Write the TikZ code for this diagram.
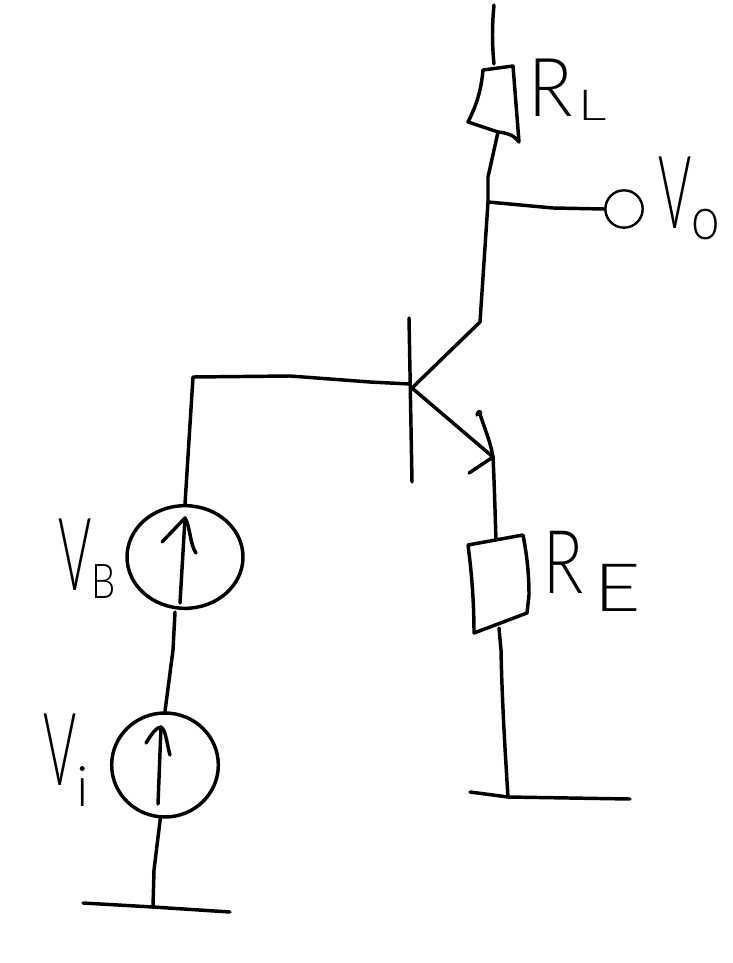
\documentclass[tikz,border=0pt]{standalone}
\usepackage{fontspec}
\usepackage{graphicx}
\usepackage{tikz}
\usetikzlibrary{shapes.geometric}
\newfontfamily\handfont{Lato}[UprightFont=*-Light]
\newcommand{\handtext}[3]{\scalebox{#2}[1]{\fontsize{#1}{#1}\selectfont\handfont #3}}
\tikzset{
  wire/.style={line width=2.6pt,line join=round,line cap=round},
  sourcering/.style={draw,ellipse,line width=2.6pt,inner sep=0pt},
  hand/.style={anchor=base west,inner sep=0pt},
}
\begin{document}
\begin{tikzpicture}[x=0.75pt,y=0.75pt,yscale=-1,xscale=1]
\useasboundingbox (0,0) rectangle (732,963);

%Shape: sources and output terminal
\node [sourcering,minimum width=87pt,minimum height=77pt] (srcB) at (185,557) {};
\node [sourcering,minimum width=80pt,minimum height=78pt] (srcI) at (165,765) {};
\node [draw,circle,line width=1.8pt,minimum size=28pt,inner sep=0pt] (out) at (624,209) {};

%Shape: junctions
\coordinate (top) at (494,5);
\coordinate (rlT) at (494,64);
\coordinate (rlB) at (498,132);
\coordinate (tap) at (488,202);
\coordinate (col) at (480,322);
\coordinate (base) at (412,388);
\coordinate (emit) at (493,457);
\coordinate (reT) at (496,540);
\coordinate (reB) at (499,628);
\coordinate (corner) at (193,377);
\coordinate (gndA) at (153,907);
\coordinate (gndB) at (508,797);

%Shape: resistors
\draw [wire] (483,70) -- (513,66) -- (519,142) .. controls (513,134) and (506,133) .. (rlB) -- (468,122) .. controls (476,106) and (481,92) .. (483,70) ;
\draw [wire] (468,545) -- (523,535) .. controls (527,555) and (529,575) .. (529,595) -- (527,613) -- (474,633) .. controls (474,605) and (472,575) .. (468,545) ;

%Shape: wires
\draw [wire] (top) .. controls (492,25) and (492,45) .. (rlT) ;
\draw [wire] (rlB) -- (488,177) -- (tap) -- (col) -- (base) ;
\draw [wire] (tap) -- (553,208) -- (out.west) ;
\draw [wire] (base) -- (emit) .. controls (494,475) and (495,510) .. (reT) ;
\draw [wire] (reB) -- (501,650) .. controls (502,700) and (505,750) .. (gndB) ;
\draw [wire] (409,318) -- (412,482) ;
\draw [wire] (410,384) -- (370,382) -- (290,376) -- (corner) -- (srcB.north) ;
\draw [wire] (175,612) -- (173,650) -- (srcI.north) ;
\draw [wire] (srcI.265) -- (154,870) -- (gndA) ;

%Shape: grounds
\draw [wire] (83,903) -- (gndA) -- (230,912) ;
\draw [wire] (470,792) -- (gndB) -- (630,799) ;

%Shape: arrows
\draw [wire] (477,415) .. controls (478,410) and (482,411) .. (480,414) .. controls (485,430) and (490,440) .. (emit) -- (469,473) ;
\draw [wire] (180,603) -- (185,518) ;
\draw [wire] (162,542) -- (185,518) .. controls (190,525) and (190,545) .. (196,553) ;
\draw [wire] (158,804) -- (161,727) ;
\draw [wire] (146,743) .. controls (152,733) and (157,727) .. (161,727) .. controls (166,730) and (167,745) .. (170,755) ;

% Text Node
\node [hand] (labelRL) at (528,117) {\handtext{61}{.9}{R}\kern4pt\raisebox{-3pt}{\handtext{32}{1.3}{L}}};
% Text Node
\node [hand] (labelVo) at (658,228) {\handtext{76}{.5}{V}\raisebox{-9pt}{\handtext{45}{.85}{o}}};
% Text Node
\node [hand] (labelVB) at (58,590) {\handtext{76}{.5}{V}\raisebox{-6pt}{\handtext{36}{.8}{B}}};
% Text Node
\node [hand] (labelVi) at (43,785) {\handtext{76}{.5}{V}\raisebox{-16pt}{\handtext{42}{1}{i}}};
% Text Node
\node [hand] (labelRE) at (543,593) {\handtext{66}{.75}{R}\kern8pt\raisebox{-14pt}{\handtext{50}{1.2}{E}}};
\end{tikzpicture}
\end{document}
